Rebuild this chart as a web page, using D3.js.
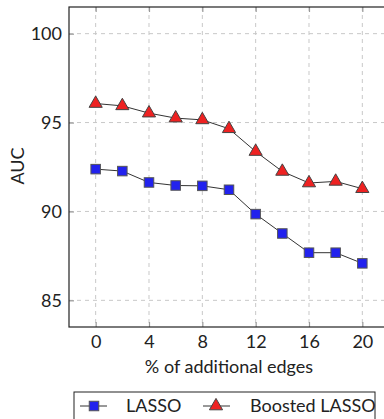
<!DOCTYPE html>
<html><head><meta charset="utf-8">
<script src="https://cdn.jsdelivr.net/npm/d3@7"></script>
<style>body{margin:0;background:#fff;} svg{display:block;}</style>
</head><body>
<svg id="c" width="384" height="419"></svg>
<script>
const xValues = [0, 2, 4, 6, 8, 10, 12, 14, 16, 18, 20];
const lasso = [92.38, 92.27, 91.63, 91.46, 91.44, 91.22, 89.85, 88.76, 87.68, 87.68, 87.08];
const boosted = [96.07, 95.94, 95.53, 95.25, 95.15, 94.65, 93.37, 92.25, 91.6, 91.69, 91.28];
const xTicks = [0, 4, 8, 12, 16, 20];
const yTicks = [85, 90, 95, 100];
const seriesNames = ["LASSO", "Boosted LASSO"];

const font = "Lato, 'DejaVu Sans', sans-serif";
const fs = 18;
const svg = d3.select("#c");
const L = 69, T = 7, B = 327;
const x = d3.scaleLinear().domain([-2, 22]).range([L, L + 24 * 13.333]);
const y = d3.scaleLinear().domain([83.5, 101.5]).range([B, T]);

// grid
const g = svg.append("g");
g.selectAll(".gx").data(xTicks).join("line")
  .attr("x1", d => x(d)).attr("x2", d => x(d)).attr("y1", T).attr("y2", B)
  .attr("stroke", "#c8c8c8").attr("stroke-dasharray", "4,4").attr("stroke-width", 1);
g.selectAll(".gy").data(yTicks).join("line")
  .attr("x1", L).attr("x2", 390).attr("y1", d => y(d)).attr("y2", d => y(d))
  .attr("stroke", "#c8c8c8").attr("stroke-dasharray", "4,4").attr("stroke-width", 1);

// axes (inward ticks)
const xa = svg.append("g").attr("transform", `translate(0,${B})`)
  .call(d3.axisBottom(x).tickValues(xTicks).tickSize(-5).tickPadding(8));
const xt = svg.append("g").attr("transform", `translate(0,${T})`)
  .call(d3.axisTop(x).tickValues(xTicks).tickSize(-5).tickFormat(""));
const ya = svg.append("g").attr("transform", `translate(${L},0)`)
  .call(d3.axisLeft(y).tickValues(yTicks).tickSize(-5).tickPadding(7));
[xa, xt, ya].forEach(a => {
  a.select(".domain").remove();
  a.selectAll(".tick line").attr("stroke", "#999").attr("stroke-width", 1.2);
  a.selectAll("text").attr("font-family", font).attr("font-size", fs).attr("fill", "#222");
});
// frame
svg.append("rect").attr("x", L).attr("y", T).attr("width", 400).attr("height", B - T)
  .attr("fill", "none").attr("stroke", "#222").attr("stroke-width", 1.2);

// lines
const line = d3.line().x((d, i) => x(xValues[i])).y(d => y(d));
[lasso, boosted].forEach(s => {
  svg.append("path").datum(s).attr("d", line).attr("fill", "none")
    .attr("stroke", "#333").attr("stroke-width", 1);
});

const sq = 9.5;
function square(sel, cx, cy) {
  sel.append("rect").attr("x", cx - sq / 2).attr("y", cy - sq / 2).attr("width", sq).attr("height", sq)
    .attr("fill", "#2222ee").attr("stroke", "#555").attr("stroke-width", 1);
}
const tri = d3.symbol().type(d3.symbolTriangle).size(75);
function triangle(sel, cx, cy) {
  sel.append("path").attr("d", tri).attr("transform", `translate(${cx},${cy})`)
    .attr("fill", "#ee2222").attr("stroke", "#444").attr("stroke-width", 1);
}
lasso.forEach((v, i) => square(svg, x(xValues[i]), y(v)));
boosted.forEach((v, i) => triangle(svg, x(xValues[i]), y(v)));

// labels
svg.append("text").attr("x", 229).attr("y", 373).attr("text-anchor", "middle")
  .attr("font-family", font).attr("font-size", fs).attr("fill", "#222").text("% of additional edges");
svg.append("text").attr("transform", "translate(24,166) rotate(-90)").attr("text-anchor", "middle")
  .attr("font-family", font).attr("font-size", fs).attr("fill", "#222").text("AUC");

// legend
svg.append("rect").attr("x", 74).attr("y", 392).attr("width", 301).attr("height", 40)
  .attr("fill", "#fff").attr("stroke", "#222").attr("stroke-width", 1);
const ly = 406;
svg.append("line").attr("x1", 80).attr("x2", 107).attr("y1", ly).attr("y2", ly).attr("stroke", "#333");
square(svg, 94, ly);
svg.append("text").attr("x", 126).attr("y", ly + 6).attr("font-family", font).attr("font-size", fs)
  .attr("fill", "#222").text(seriesNames[0]);
svg.append("line").attr("x1", 203).attr("x2", 230).attr("y1", ly).attr("y2", ly).attr("stroke", "#333");
triangle(svg, 216, ly);
svg.append("text").attr("x", 250).attr("y", ly + 6).attr("font-family", font).attr("font-size", fs)
  .attr("fill", "#222").text(seriesNames[1]);
</script>
</body></html>
